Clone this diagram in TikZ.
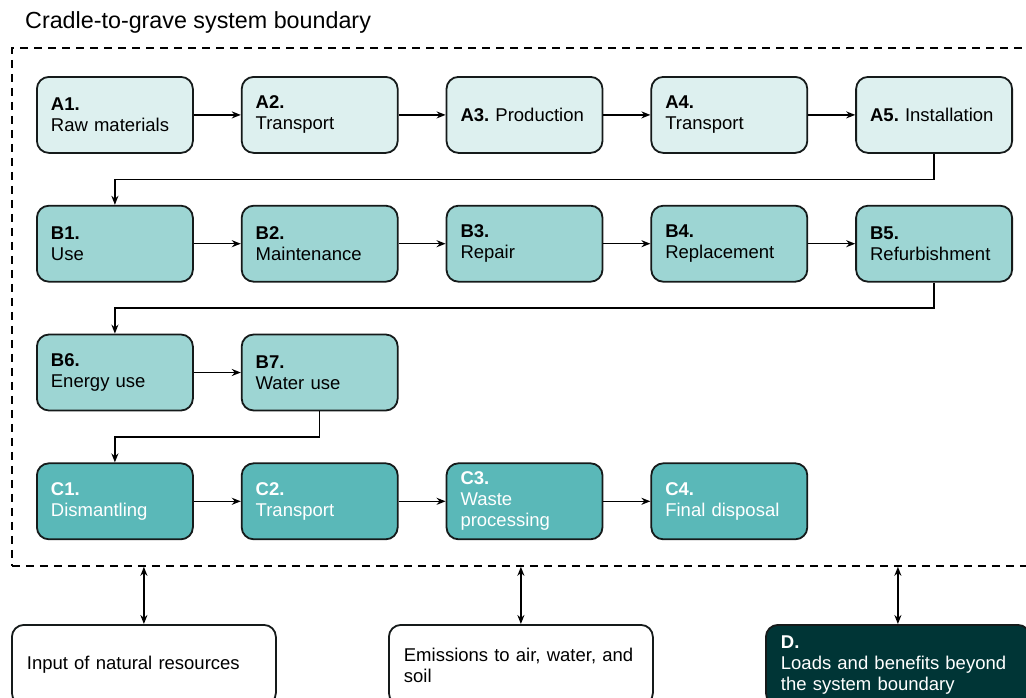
\documentclass[tikz,border=0pt]{standalone}
\usepackage{fontspec}
\setmainfont{Liberation Sans}
\usetikzlibrary{positioning,calc,arrows.meta}
\definecolor{stageA}{HTML}{DDF0EF}
\definecolor{stageB}{HTML}{9DD5D3}
\definecolor{stageC}{HTML}{5AB8B8}
\definecolor{stageD}{HTML}{003536}
\definecolor{boxline}{HTML}{151A1A}
\newcommand\boxfont{\fontsize{18.5}{21}\selectfont\frenchspacing\hyphenpenalty=10000\relax}
\tikzset{
    % module box (basic style)
    mbox/.style = {draw=boxline, line width=1.8pt, rounded corners=12pt, minimum width=156pt, minimum height=76pt, text width=128pt, inner xsep=14pt, align=left, font=\boxfont},
    % product stage
    modA/.style = {mbox, fill=stageA},
    % use stage
    modB/.style = {mbox, fill=stageB},
    % end of life stage
    modC/.style = {mbox, fill=stageC, text=white},
    % boxes outside of the boundary
    obox/.style = {mbox, minimum width=264pt, minimum height=80pt, text width=234pt, inner xsep=15pt, fill=white},
    % flow arrows
    flow/.style = {line width=1.5pt, -{Stealth[length=9pt,width=7pt]}},
    % exchange arrows (both ways)
    xchg/.style = {line width=1.8pt, {Stealth[length=9pt,width=7pt]}-{Stealth[length=9pt,width=7pt]}},
    % system boundary
    sysbound/.style = {draw=black, line width=1.8pt, dash pattern=on 8pt off 6pt, inner sep=0}
}
\begin{document}
\begin{tikzpicture}[x=1pt, y=-1pt, node distance=51pt and 47pt]
\useasboundingbox (0,0) rectangle (1026,697);
\clip (0,0) rectangle (1026,697);

\node [anchor=base west, inner sep=0, font=\fontsize{23.3}{27}\selectfont] (title) at (25,28) {Cradle-to-grave system boundary};
\node [sysbound, anchor=north west, minimum width=1030pt, minimum height=518pt] (bound) at (11,47) {};

% A: product and construction
\node [modA, anchor=north west] (A1) at (36,76) {\textbf{A1.}\\Raw materials};
\node [modA, right=of A1] (A2) {\textbf{A2.}\\Transport};
\node [modA, right=of A2] (A3) {\textbf{A3.} Production};
\node [modA, right=of A3] (A4) {\textbf{A4.}\\Transport};
\node [modA, right=of A4] (A5) {\textbf{A5.} Installation};

% B: use
\node [modB, below=of A1] (B1) {\textbf{B1.}\\Use};
\node [modB, right=of B1] (B2) {\textbf{B2.}\\Maintenance};
\node [modB, right=of B2] (B3) {\textbf{B3.}\\Repair};
\node [modB, right=of B3] (B4) {\textbf{B4.}\\Replacement};
\node [modB, right=of B4] (B5) {\textbf{B5.}\\Refurbishment};
\node [modB, below=of B1] (B6) {\textbf{B6.}\\Energy use};
\node [modB, right=of B6] (B7) {\textbf{B7.}\\Water use};

% C: end of life
\node [modC, below=of B6] (C1) {\textbf{C1.}\\Dismantling};
\node [modC, right=of C1] (C2) {\textbf{C2.}\\Transport};
\node [modC, right=of C2] (C3) {\textbf{C3.}\\Waste\\processing};
\node [modC, right=of C3] (C4) {\textbf{C4.}\\Final disposal};

% outside the boundary
\node [obox, anchor=north west] (inp) at (11,624) {Input of natural resources};
\node [obox, anchor=north west] (emis) at (388,624) {Emissions to air, water, and\\soil};
\node [obox, anchor=north west, fill=stageD, text=white] (ben) at (765,624) {\textbf{D.}\\Loads and benefits beyond\\the system boundary};

\foreach \a/\b in {A1/A2,A2/A3,A3/A4,A4/A5,B1/B2,B2/B3,B3/B4,B4/B5,B6/B7,C1/C2,C2/C3,C3/C4}
  \draw [flow] (\a) -- (\b);

\foreach \a/\b in {A5/B1,B5/B6,B7/C1}
  \draw [flow] (\a.south) |- ($(\a.south)!0.5!(\b.north)$) -| (\b.north);

\foreach \o in {inp,emis,ben}
  \draw [xchg] (\o.north) -- (\o.north |- bound.south);

\end{tikzpicture}
\end{document}
